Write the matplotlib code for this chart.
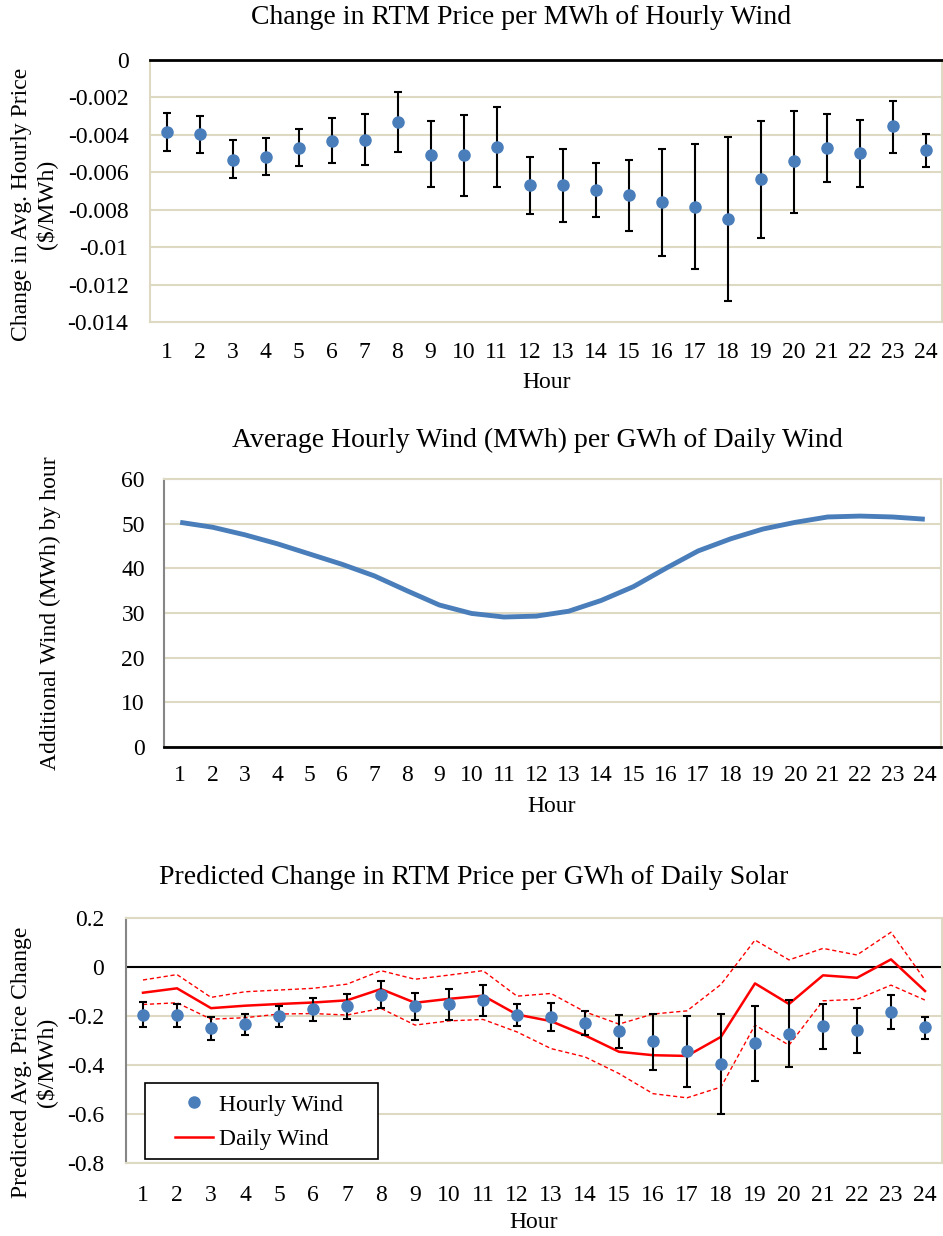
import matplotlib
matplotlib.use("Agg")
import matplotlib.pyplot as plt
from matplotlib.patches import Rectangle

plt.rcParams["font.family"] = ["Liberation Serif", "DejaVu Serif"]

hours = list(range(1, 25))
hour_labels = [str(h) for h in hours]

# top panel: change in RTM price per MWh of hourly wind
price_change = [-0.00385, -0.00398, -0.00532, -0.00519, -0.00469, -0.00432, -0.00425, -0.00332,
                -0.00505, -0.00510, -0.00464, -0.00670, -0.00670, -0.00694, -0.00724, -0.00760,
                -0.00783, -0.00849, -0.00637, -0.00542, -0.00469, -0.00499, -0.00355, -0.00483]
price_change_hi = [-0.00282, -0.00300, -0.00430, -0.00419, -0.00369, -0.00312, -0.00287, -0.00170,
                   -0.00326, -0.00293, -0.00250, -0.00517, -0.00478, -0.00548, -0.00537, -0.00475,
                   -0.00448, -0.00412, -0.00325, -0.00271, -0.00287, -0.00323, -0.00218, -0.00394]
price_change_lo = [-0.00487, -0.00498, -0.00630, -0.00617, -0.00567, -0.00553, -0.00560, -0.00494,
                   -0.00680, -0.00728, -0.00678, -0.00824, -0.00865, -0.00840, -0.00912, -0.01049,
                   -0.01119, -0.01286, -0.00953, -0.00815, -0.00651, -0.00676, -0.00498, -0.00571]
top_yticks = [0, -0.002, -0.004, -0.006, -0.008, -0.01, -0.012, -0.014]
top_ylabels = ["0", "-0.002", "-0.004", "-0.006", "-0.008", "-0.01", "-0.012", "-0.014"]

# middle panel: average hourly wind per GWh of daily wind
hourly_wind = [50.3, 49.2, 47.5, 45.5, 43.2, 40.9, 38.3, 35.0, 31.8, 29.9, 29.1, 29.3,
               30.4, 32.8, 35.9, 40.0, 43.9, 46.6, 48.8, 50.3, 51.5, 51.7, 51.5, 51.0]
mid_yticks = [0, 10, 20, 30, 40, 50, 60]

# bottom panel: predicted change per GWh of daily solar
pred_hourly = [-0.194, -0.196, -0.251, -0.234, -0.200, -0.173, -0.160, -0.115, -0.160, -0.153, -0.135, -0.196,
               -0.205, -0.229, -0.263, -0.304, -0.342, -0.395, -0.311, -0.274, -0.241, -0.258, -0.184, -0.245]
pred_hourly_hi = [-0.142, -0.149, -0.206, -0.191, -0.158, -0.127, -0.109, -0.059, -0.105, -0.089, -0.072, -0.151,
                  -0.147, -0.180, -0.196, -0.191, -0.198, -0.192, -0.160, -0.136, -0.150, -0.168, -0.113, -0.203]
pred_hourly_lo = [-0.244, -0.244, -0.299, -0.278, -0.244, -0.222, -0.211, -0.169, -0.217, -0.217, -0.199, -0.241,
                  -0.263, -0.277, -0.330, -0.421, -0.490, -0.598, -0.465, -0.410, -0.335, -0.350, -0.255, -0.292]
pred_daily = [-0.105, -0.087, -0.168, -0.158, -0.151, -0.145, -0.136, -0.090, -0.146, -0.130, -0.117, -0.194,
              -0.221, -0.279, -0.346, -0.360, -0.363, -0.285, -0.067, -0.151, -0.034, -0.044, 0.031, -0.098]
pred_daily_hi = [-0.053, -0.031, -0.124, -0.101, -0.094, -0.087, -0.070, -0.015, -0.050, -0.033, -0.015, -0.119,
                 -0.108, -0.183, -0.233, -0.192, -0.179, -0.071, 0.110, 0.029, 0.076, 0.049, 0.142, -0.053]
pred_daily_lo = [-0.153, -0.146, -0.213, -0.207, -0.192, -0.190, -0.196, -0.169, -0.237, -0.220, -0.214, -0.265,
                 -0.333, -0.367, -0.435, -0.517, -0.534, -0.490, -0.237, -0.319, -0.138, -0.132, -0.074, -0.135]
bot_yticks = [0.2, 0, -0.2, -0.4, -0.6, -0.8]
bot_ylabels = ["0.2", "0", "-0.2", "-0.4", "-0.6", "-0.8"]

BLUE = "#4a7ebb"
GRID = "#ddd9c3"
AXGREY = "#868686"
FS = 17
TFS = 20

W, H = 943, 1236


def px_axes(fig, left, top, right, bottom):
    return fig.add_axes([left / W, 1 - bottom / H, (right - left) / W, (bottom - top) / H])


def px_text(fig, x, y, s, **kw):
    return fig.text(x / W, 1 - y / H, s, ha="center", va="center", **kw)


def style_axes(ax, xpad, ypad):
    for s in ax.spines.values():
        s.set_color(GRID)
        s.set_linewidth(1.5)
    ax.tick_params(length=0, labelsize=FS)
    ax.tick_params(axis="x", pad=xpad)
    ax.tick_params(axis="y", pad=ypad)
    ax.set_xlim(0.5, 24.5)
    ax.set_xticks(hours)
    ax.set_xticklabels(hour_labels)
    ax.yaxis.grid(True, color=GRID, linewidth=1.5)
    ax.set_axisbelow(True)


def errs(val, hi, lo):
    return [[v - l for v, l in zip(val, lo)], [h - v for v, h in zip(val, hi)]]


fig = plt.figure(figsize=(W / 100, H / 100), dpi=100)

# ---- top
ax1 = px_axes(fig, 150, 60, 942, 322)
style_axes(ax1, 14.5, 15.5)
ax1.errorbar(hours, price_change, yerr=errs(price_change, price_change_hi, price_change_lo),
             fmt="o", color=BLUE, markersize=8, ecolor="black", elinewidth=1.5,
             capsize=3, capthick=1.5, zorder=3)
ax1.set_ylim(-0.014, 0)
ax1.set_yticks(top_yticks)
ax1.set_yticklabels(top_ylabels)
ax1.spines["top"].set_color("black")
ax1.spines["top"].set_linewidth(2)
px_text(fig, 521, 18, "Change in RTM Price per MWh of Hourly Wind", fontsize=TFS)
px_text(fig, 547, 383, "Hour", fontsize=FS)
px_text(fig, 34, 204, "Change in Avg. Hourly Price\n($/MWh)", fontsize=FS, rotation=90,
        linespacing=1.15)

# ---- middle
ax2 = px_axes(fig, 164, 479, 941, 747)
style_axes(ax2, 13.3, 13.7)
ax2.plot(hours, hourly_wind, color=BLUE, linewidth=3.5, solid_capstyle="butt")
ax2.set_ylim(0, 60)
ax2.set_yticks(mid_yticks)
ax2.spines["left"].set_color(AXGREY)
ax2.spines["bottom"].set_color("black")
ax2.spines["bottom"].set_linewidth(2)
px_text(fig, 537, 440, "Average Hourly Wind (MWh) per GWh of Daily Wind", fontsize=TFS)
px_text(fig, 552, 806, "Hour", fontsize=FS)
px_text(fig, 50, 613, "Additional Wind (MWh) by hour", fontsize=FS, rotation=90)

# ---- bottom
ax3 = px_axes(fig, 126, 918, 942, 1163)
style_axes(ax3, 15.5, 15.8)
ax3.axhline(0, color="black", linewidth=1.5, zorder=2)
ax3.plot(hours, pred_daily_hi, color="red", linewidth=1, dashes=(3, 2), zorder=2)
ax3.plot(hours, pred_daily_lo, color="red", linewidth=1, dashes=(3, 2), zorder=2)
ax3.plot(hours, pred_daily, color="red", linewidth=1.8, zorder=2, label="Daily Wind")
ax3.errorbar(hours, pred_hourly, yerr=errs(pred_hourly, pred_hourly_hi, pred_hourly_lo),
             fmt="o", color=BLUE, markersize=8, ecolor="black", elinewidth=1.5,
             capsize=3, capthick=1.5, zorder=3)
ax3.plot([], [], "o", color=BLUE, markersize=8, label="Hourly Wind")
ax3.set_ylim(-0.8, 0.2)
ax3.set_yticks(bot_yticks)
ax3.set_yticklabels(bot_ylabels)
ax3.spines["left"].set_color(AXGREY)
px_text(fig, 474, 878, "Predicted Change in RTM Price per GWh of Daily Solar", fontsize=TFS)
px_text(fig, 534, 1222, "Hour", fontsize=FS)
px_text(fig, 34, 1062, "Predicted Avg. Price Change\n($/MWh)", fontsize=FS, rotation=90,
        linespacing=1.15)

# legend box drawn by hand so the padding matches
box = Rectangle((145 / W, 1 - 1159 / H), 233 / W, 76 / H, transform=fig.transFigure,
                facecolor="white", edgecolor="black", linewidth=1.2, zorder=5, clip_on=False)
ax3.add_patch(box)
handles, labels = ax3.get_legend_handles_labels()
leg = ax3.legend(handles[::-1], labels[::-1], loc="center left",
                 bbox_to_anchor=(175 / W, 1 - 1122 / H), bbox_transform=fig.transFigure,
                 fontsize=FS, frameon=False, handlelength=1.6, borderpad=0,
                 labelspacing=0.55, handletextpad=0.25, borderaxespad=0)
leg.set_zorder(6)

fig.savefig("out.png", dpi=100)
